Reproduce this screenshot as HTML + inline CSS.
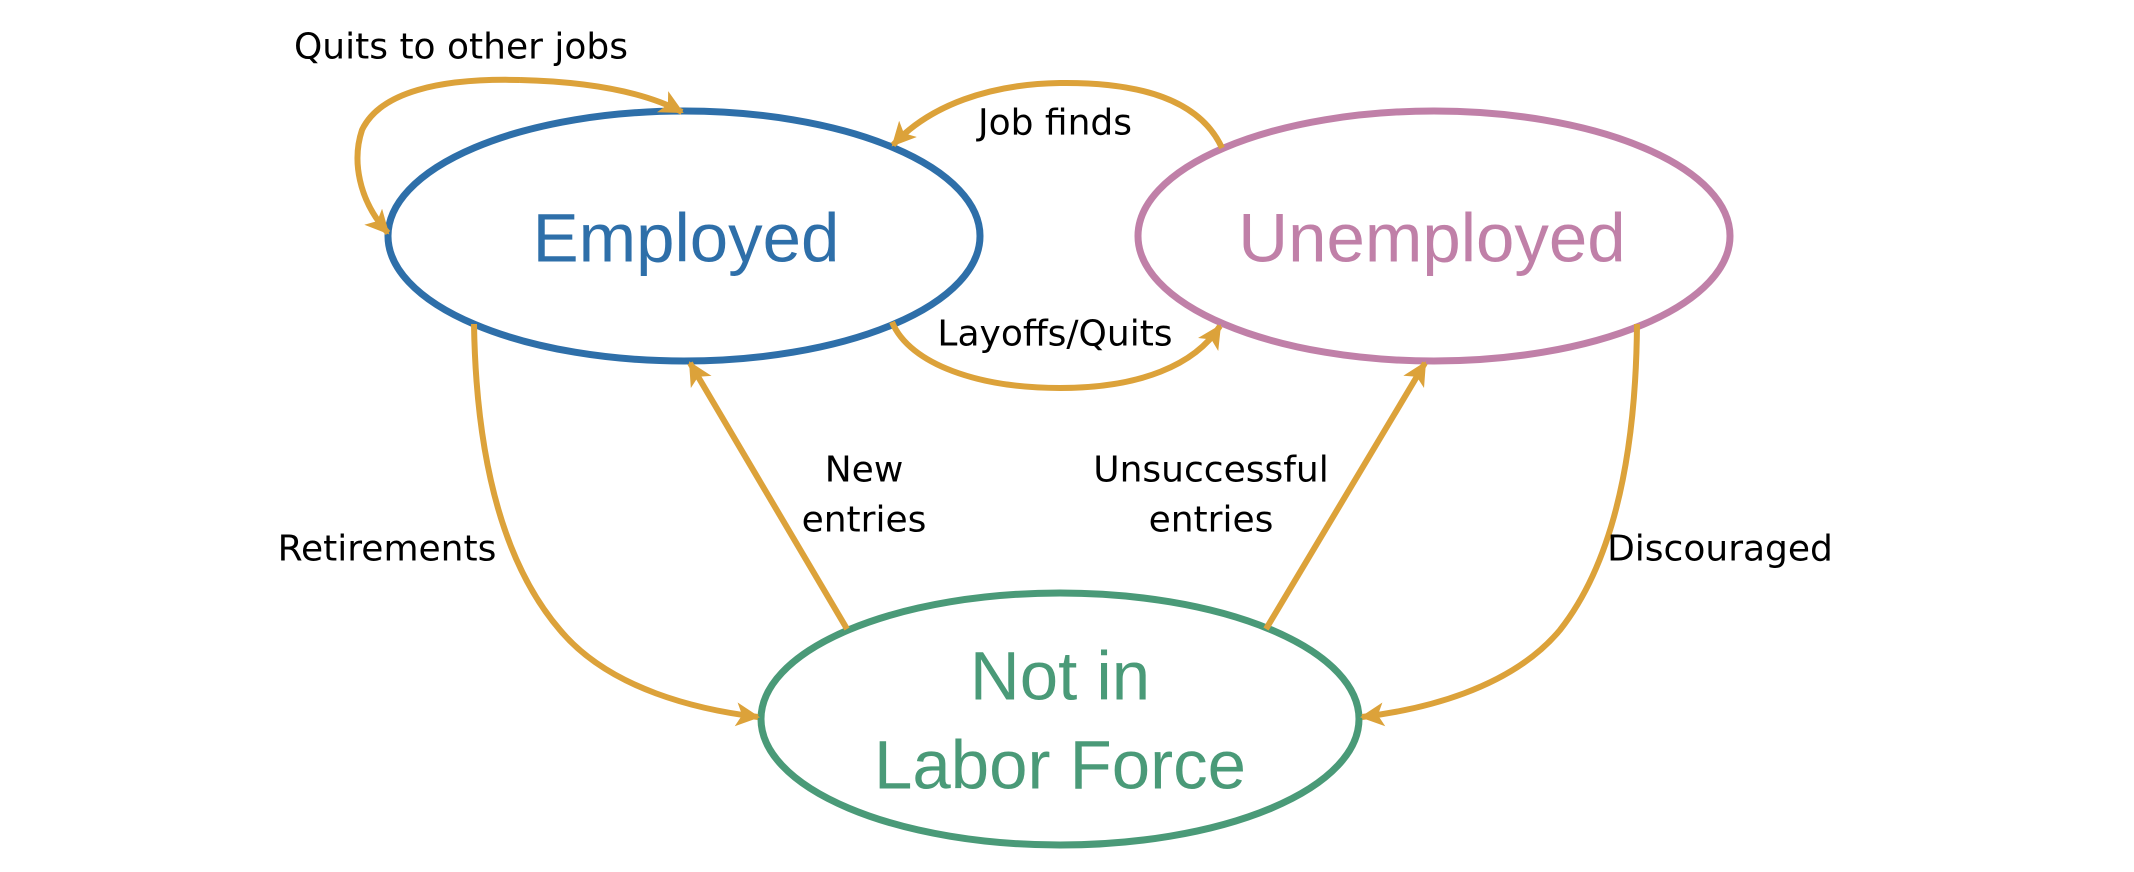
<!DOCTYPE html>
<html><head><meta charset="utf-8"><style>
html,body{margin:0;padding:0;background:#fff;width:2134px;height:872px;overflow:hidden}
svg{display:block}
text{font-family:"DejaVu Sans","Liberation Sans",sans-serif}
.big{font-family:"Liberation Sans","DejaVu Sans",sans-serif}
</style></head><body>
<svg width="2134" height="872" viewBox="0 0 2134 872" xmlns="http://www.w3.org/2000/svg">
<defs>
<marker id="a" markerUnits="userSpaceOnUse" markerWidth="30" markerHeight="30" refX="22" refY="12" orient="auto">
<path d="M0,0 L24,12 L0,24 L6,12 Z" fill="#dca23a"/>
</marker>
</defs>
<g fill="none" stroke-width="7">
<ellipse cx="684" cy="236" rx="296" ry="125" stroke="#2e6fa9"/>
<ellipse cx="1434" cy="236" rx="296" ry="125" stroke="#c080a8"/>
<ellipse cx="1060" cy="719" rx="299" ry="126" stroke="#4a9a78"/>
</g>
<g fill="none" stroke="#dca23a" stroke-width="6" marker-end="url(#a)">
<path d="M520,80 C600,82 650,95 682,112"/>
<path d="M520,80 C440,78 380,92 362,130 C352,160 358,200 388,233"/>
<path d="M1222,148 C1200,100 1140,82 1060,83 C990,84 930,105 893,145"/>
<path d="M892,322 C910,365 980,388 1060,388 C1140,388 1195,365 1220,326"/>
<path d="M474,324 C476,450 500,560 560,630 C610,690 700,710 758,717"/>
<path d="M847,629 L690,363"/>
<path d="M1266,629 L1425,363"/>
<path d="M1637,324 C1636,450 1615,560 1560,630 C1510,690 1420,710 1362,717"/>
</g>
<g text-anchor="middle" dominant-baseline="central">
<text class="big" x="686" y="238" font-size="69" fill="#2e6fa9">Employed</text>
<text class="big" x="1432" y="238" font-size="69" fill="#c080a8">Unemployed</text>
<text class="big" x="1060" y="676" font-size="69" fill="#4a9a78">Not in</text>
<text class="big" x="1060" y="765" font-size="69" fill="#4a9a78">Labor Force</text>
<g font-size="36" fill="#000">
<text x="461" y="47">Quits to other jobs</text>
<text x="1055" y="123">Job finds</text>
<text x="1055" y="334">Layoffs/Quits</text>
<text x="864" y="470">New</text>
<text x="864" y="520">entries</text>
<text x="1211" y="470">Unsuccessful</text>
<text x="1211" y="520">entries</text>
<text x="387" y="549">Retirements</text>
<text x="1720" y="549">Discouraged</text>
</g>
</g>
</svg>
</body></html>
